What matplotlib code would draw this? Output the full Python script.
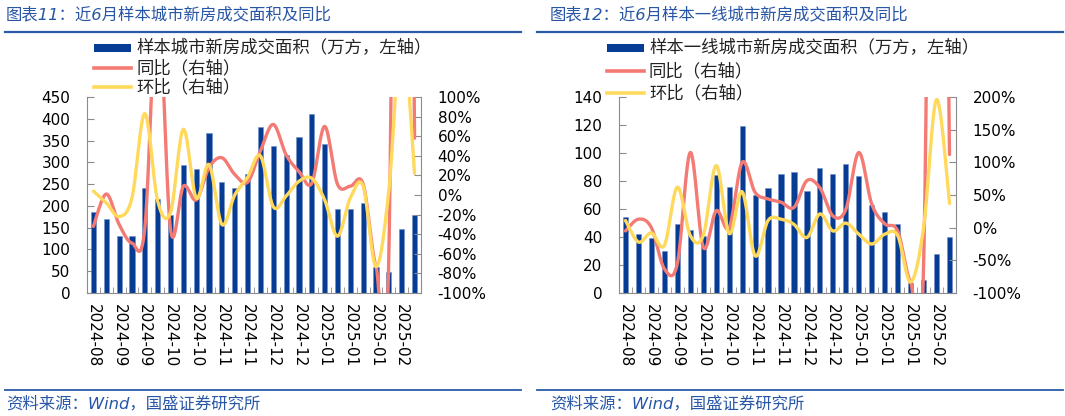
import numpy as np
import matplotlib
matplotlib.use("Agg")
import matplotlib.pyplot as plt
from matplotlib.lines import Line2D
from matplotlib.patches import Rectangle

plt.rcParams['font.family'] = ['DejaVu Sans', 'Noto Sans CJK SC']

# ---------------- data ----------------
xlabels = ["2024-08", "2024-09", "2024-09", "2024-10", "2024-10", "2024-11", "2024-11",
           "2024-12", "2024-12", "2025-01", "2025-01", "2025-01", "2025-02"]

left_area = [186, 169, 132, 132, 242, 215, 178, 295, 284, 368, 254, 242, 274,
             382, 338, 316, 359, 410, 343, 193, 193, 206, 59, 48, 146, 178]
left_yoy = [-32, 1, -30, -49, -34, 200, -35, 9, -5, 28, 38, 21, 13,
            45, 72, 41, 24, 12, 70, 11, 9, 11, -73, -60, 1200, 58]
left_mom = [4, -8, -22, -3, 83, -6, -18, 67, -3, 31, -30, 0, 18,
            40, -12, -1, 14, 17, -5, -42, -3, 9, -73, 5, 170, 22]

right_area = [54, 42.5, 39, 30, 49, 45, 41, 84, 75.6, 119, 70, 75, 84.7,
              86.5, 73, 89, 85, 92, 83.5, 63, 58, 49.6, 7, 9, 28, 40]
right_yoy = [-5, 13, 0, -63, -55, 115, -30, 26, 0, 100, 54, 44, 39,
             31, 72, 61, 18, 28, 115, 36, 6, -5, -83, -58, 1500, 112]
right_mom = [11, -22, -8, -27, 62, -12, -12, 95, -9, 55, -43, 11, 13,
             5, -15, 21, -5, 7, -10, -25, -10, -12, -83, 0, 196, 37]

W, H = 1065, 416
BLUE_BAR = '#073C94'
RED = '#F47A74'
YEL = '#FFD95C'
TITLE_BLUE = '#2856A6'
GRAY = '#8C8C8C'


def smooth(y, n=30):
    x = np.arange(len(y), dtype=float)
    P = np.column_stack([x, np.asarray(y, dtype=float)])
    Pe = np.vstack([P[0], P, P[-1]])
    out = []
    t = np.linspace(0, 1, n)[:, None]
    for i in range(len(P) - 1):
        p0, p1, p2, p3 = Pe[i], Pe[i + 1], Pe[i + 2], Pe[i + 3]
        b1 = p1 + (p2 - p0) / 6.0
        b2 = p2 - (p3 - p1) / 6.0
        seg = (1 - t) ** 3 * p1 + 3 * (1 - t) ** 2 * t * b1 + 3 * (1 - t) * t ** 2 * b2 + t ** 3 * p2
        out.append(seg if i == 0 else seg[1:])
    return np.vstack(out)


fig = plt.figure(figsize=(W / 100, H / 100), dpi=100)


def fx(px):
    return px / W


def fy(py):
    return 1 - py / H


def panel(x0, x1, area, yoy, mom, lmax, lstep, rmin, rmax, rstep,
          title, legend_label, leg_x, leg_rows, line_x0, line_x1, title_x):
    ax = fig.add_axes([fx(x0), fy(293), fx(x1 - x0), (293 - 97) / H])
    n = len(area)
    idx = np.arange(n)
    ax.bar(idx, area, width=0.4, color=BLUE_BAR, edgecolor='#6F8FC8', linewidth=0.4, zorder=2)
    ax.set_xlim(-0.5, n - 0.5)
    ax.set_ylim(0, lmax)
    ax.set_yticks(np.arange(0, lmax + 0.1, lstep))
    ax.set_xticks(idx[::2])
    ax.set_xticklabels(xlabels, rotation=-90, fontsize=11)
    ax.set_xticks(np.arange(0.5, n - 0.5, 1), minor=True)
    ax.tick_params(axis='x', which='major', length=0, pad=8)
    ax.tick_params(axis='x', which='minor', direction='in', length=4, color=GRAY)
    ax.tick_params(axis='y', direction='in', length=5, color=GRAY, labelsize=11, pad=12)
    for s in ['top', 'right']:
        ax.spines[s].set_visible(False)
    for s in ['left', 'bottom']:
        ax.spines[s].set_color(GRAY)

    ax2 = ax.twinx()
    ax2.set_ylim(rmin, rmax)
    ax2.set_yticks(np.arange(rmin, rmax + 0.1, rstep))
    ax2.set_yticklabels([f"{v:.0f}%" for v in np.arange(rmin, rmax + 0.1, rstep)])
    ax2.tick_params(axis='y', direction='in', length=5, color=GRAY, labelsize=11, pad=12)
    for s in ['top', 'left', 'bottom']:
        ax2.spines[s].set_visible(False)
    ax2.spines['right'].set_color(GRAY)
    s1 = smooth(yoy)
    s2 = smooth(mom)
    ax2.plot(s1[:, 0], s1[:, 1], color=RED, lw=2.4, solid_capstyle='round', zorder=3)
    ax2.plot(s2[:, 0], s2[:, 1], color=YEL, lw=2.4, solid_capstyle='round', zorder=4)

    # title, rules, source
    fig.text(fx(title_x), fy(14), title, color=TITLE_BLUE, fontsize=11.8, style='italic',
             va='center', ha='left')
    fig.add_artist(Line2D([fx(line_x0), fx(line_x1)], [fy(32), fy(32)], color='#2A5AA8', lw=1.6))
    fig.add_artist(Line2D([fx(line_x0), fx(line_x1)], [fy(390), fy(390)], color='#2A5AA8', lw=1.3))
    fig.text(fx(title_x), fy(404), "资料来源：Wind，国盛证券研究所", color=TITLE_BLUE,
             fontsize=11.8, style='italic', va='center', ha='left')

    # legend
    labels = [legend_label, "同比（右轴）", "环比（右轴）"]
    for k, (lab, yrow) in enumerate(zip(labels, leg_rows)):
        if k == 0:
            fig.add_artist(Rectangle((fx(leg_x), fy(yrow + 4)), fx(37), 8 / H,
                                     color=BLUE_BAR, lw=0))
        else:
            fig.add_artist(Line2D([fx(leg_x), fx(leg_x + 37)], [fy(yrow), fy(yrow)],
                                  color=RED if k == 1 else YEL, lw=2.6))
        fig.text(fx(leg_x + 42), fy(yrow), lab, fontsize=12.5, va='center', ha='left',
                 color='#222222')
    return ax, ax2


panel(87, 421, left_area, left_yoy, left_mom, 450, 50, -100, 100, 20,
      "图表11：近6月样本城市新房成交面积及同比", "样本城市新房成交面积（万方，左轴）",
      94, [48, 68, 87], 5, 521, 6)
panel(619, 956, right_area, right_yoy, right_mom, 140, 20, -100, 200, 50,
      "图表12：近6月样本一线城市新房成交面积及同比", "样本一线城市新房成交面积（万方，左轴）",
      607, [48, 71, 93], 537, 1063, 550)

fig.savefig("out.png", dpi=100)
